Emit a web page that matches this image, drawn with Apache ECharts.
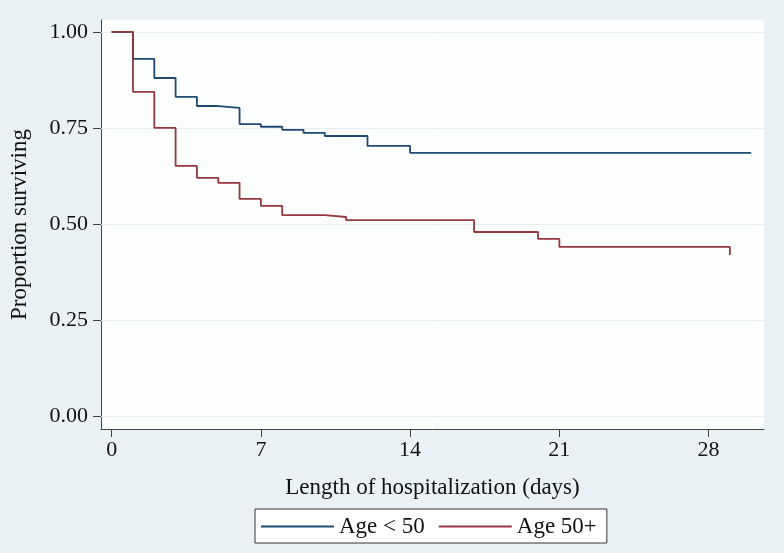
<!DOCTYPE html>
<html>
<head>
<meta charset="utf-8">
<script src="https://cdn.jsdelivr.net/npm/echarts@6/dist/echarts.min.js"></script>
<style>
html,body{margin:0;padding:0;background:#eaf1f4;}
#chart{width:784px;height:553px;}
</style>
</head>
<body>
<div id="chart"></div>
<script>
// Kaplan-Meier step data (day of drop, survival after drop)
const daysBlue = [0, 1, 2, 3, 4, 5, 6, 7, 8, 9, 10, 12, 14, 30];
const survBlue = [1.00, 0.930, 0.880, 0.831, 0.807, 0.802, 0.760, 0.753, 0.745, 0.737, 0.729, 0.703, 0.685, 0.685];
const daysRed = [0, 1, 2, 3, 4, 5, 6, 7, 8, 10, 11, 17, 20, 21, 29];
const survRed = [1.00, 0.844, 0.750, 0.651, 0.620, 0.607, 0.565, 0.547, 0.523, 0.518, 0.510, 0.479, 0.461, 0.440, 0.419];
const xTicks = [0, 7, 14, 21, 28];
const yTicks = [0, 0.25, 0.5, 0.75, 1.0];
const seriesNames = ['Age < 50', 'Age 50+'];

const FONT = '"Liberation Serif", "DejaVu Serif", serif';
const chart = echarts.init(document.getElementById('chart'));
const pairs = (xs, ys) => xs.map((x, i) => [x, ys[i]]);

chart.setOption({
  backgroundColor: '#eaf1f4',
  textStyle: { fontFamily: FONT },
  animation: false,
  grid: { left: 100, right: 20, top: 20, bottom: 124, show: true, backgroundColor: '#fcfdfd', borderWidth: 0 },
  legend: {
    data: seriesNames,
    left: 255, top: 509,
    backgroundColor: '#ffffff', borderColor: '#333', borderWidth: 1,
    padding: [6, 10, 5, 6],
    icon: 'rect', itemWidth: 73, itemHeight: 2, itemGap: 14,
    textStyle: { fontFamily: FONT, fontSize: 23, color: '#111', padding: [0, 0, 0, 0] }
  },
  xAxis: {
    type: 'value', min: -0.5, max: 30.6,
    name: 'Length of hospitalization (days)', nameLocation: 'middle', nameGap: 47,
    nameTextStyle: { fontFamily: FONT, fontSize: 23, color: '#111' },
    axisLine: { show: true, onZero: false, lineStyle: { color: '#444', width: 1 } },
    axisTick: { show: true, inside: false, length: 8, customValues: xTicks, lineStyle: { color: '#444' } },
    axisLabel: { customValues: xTicks, fontFamily: FONT, fontSize: 22, color: '#111', margin: 10 },
    splitLine: { show: false }
  },
  yAxis: {
    type: 'value', min: -0.034, max: 1.031,
    name: 'Proportion surviving', nameLocation: 'middle', nameRotate: 90, nameGap: 70,
    nameTextStyle: { fontFamily: FONT, fontSize: 23, color: '#111' },
    axisLine: { show: true, onZero: false, lineStyle: { color: '#444', width: 1 } },
    axisTick: { show: true, inside: false, length: 8, customValues: yTicks, lineStyle: { color: '#444' } },
    axisLabel: { customValues: yTicks, fontFamily: FONT, fontSize: 22, color: '#111', margin: 13,
      formatter: v => v.toFixed(2) },
    splitLine: { show: false }
  },
  series: [
    {
      name: seriesNames[0], type: 'line', step: 'end', symbol: 'none',
      data: pairs(daysBlue, survBlue),
      color: '#1f4a74',
      lineStyle: { color: '#1f4a74', width: 1.8 },
      z: 3,
      markLine: {
        silent: true, symbol: 'none', label: { show: false },
        lineStyle: { color: '#e6edf0', width: 1, type: 'solid' },
        data: yTicks.map(v => ({ yAxis: v })),
        z: 1
      }
    },
    {
      name: seriesNames[1], type: 'line', step: 'end', symbol: 'none',
      data: pairs(daysRed, survRed),
      color: '#95373e',
      lineStyle: { color: '#95373e', width: 1.8 },
      z: 3
    }
  ]
});
</script>
</body>
</html>
